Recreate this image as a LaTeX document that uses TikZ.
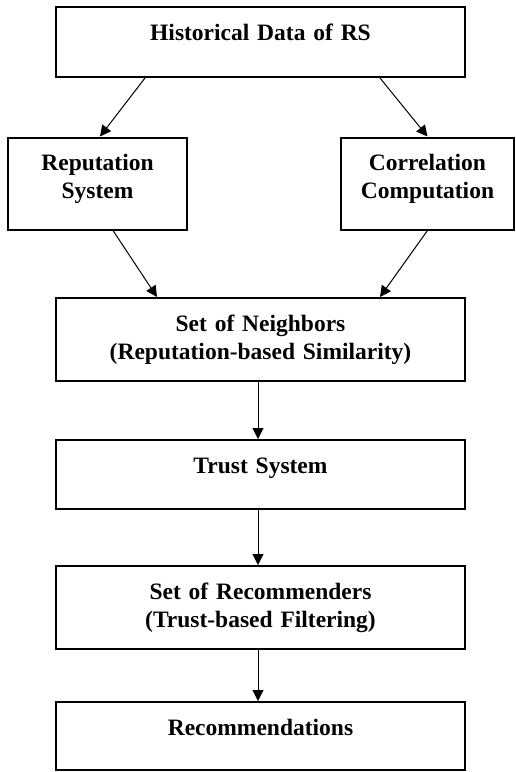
\documentclass[tikz,border=0pt]{standalone}
\usepackage{fontspec}
\setmainfont{Liberation Serif}
\usepackage{tikz}
\usetikzlibrary{arrows.meta}

\tikzset{
  stage/.style={draw, line width=2pt, inner sep=0pt, align=center,
    font=\fontsize{23.5}{28}\selectfont\bfseries, text height=33pt},
  flow/.style={-{Triangle[length=11pt,width=11pt]}, line width=1pt},
}

\begin{document}
\begin{tikzpicture}[x=1pt, y=-1pt]
  \useasboundingbox (0,0) rectangle (515,772);
  % boxes, top to bottom
  \node[stage, text width=409pt, text depth=37pt] (hist) at (260.5,42) {Historical Data of RS};
  \node[stage, text width=179pt, text depth=59pt] (rep) at (97.5,183.5) {Reputation\\System};
  \node[stage, text width=173pt, text depth=59pt] (corr) at (427.5,183.5) {Correlation\\Computation};
  \node[stage, text width=409pt, text depth=50pt] (neigh) at (260.5,339.5) {Set of Neighbors\\(Reputation-based Similarity)};
  \node[stage, text width=409pt, text depth=36pt] (trust) at (260.5,474.5) {Trust System};
  \node[stage, text width=409pt, text depth=50pt] (recs) at (260.5,607.5) {Set of Recommenders\\(Trust-based Filtering)};
  \node[stage, text width=409pt, text depth=35pt] (reco) at (260.5,736) {Recommendations};
  % arrows
  \draw[flow] ([xshift=-115.5pt]hist.south) -- ([xshift=2.5pt]rep.north);
  \draw[flow] ([xshift=119.5pt]hist.south) -- (corr.north);
  \draw[flow] ([xshift=15.5pt]rep.south) -- ([xshift=-103.5pt]neigh.north);
  \draw[flow] (corr.south) -- ([xshift=119.5pt]neigh.north);
  \draw[flow] ([xshift=-2.5pt]neigh.south) -- ([xshift=-2.5pt]trust.north);
  \draw[flow] ([xshift=-2.5pt]trust.south) -- ([xshift=-2.5pt]recs.north);
  \draw[flow] ([xshift=-2.5pt]recs.south) -- ([xshift=-2.5pt]reco.north);
\end{tikzpicture}
\end{document}
